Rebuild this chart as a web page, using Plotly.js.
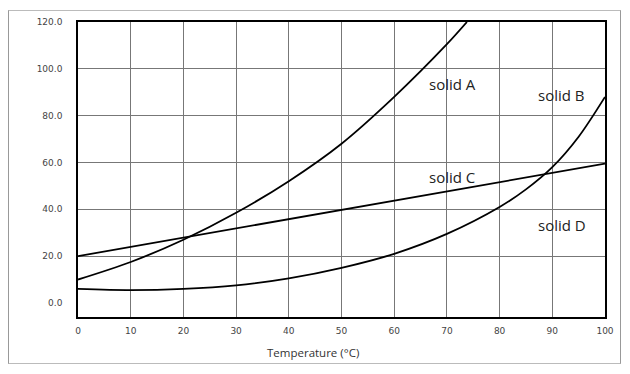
<!DOCTYPE html>
<html><head><meta charset="utf-8">
<script src="https://cdn.plot.ly/plotly-3.0.1.min.js"></script>
<style>
html,body{margin:0;padding:0;background:#fff;}
#wrap{position:relative;width:630px;height:374px;}
#chart{position:absolute;left:0;top:0;width:630px;height:374px;}
#frame{position:absolute;left:8px;top:10px;width:611px;height:352px;border:1px solid #999;border-top-color:#bbb;border-bottom-color:#bbb;pointer-events:none;}
</style></head>
<body><div id="wrap"><div id="chart"></div><div id="frame"></div></div>
<script>
// Temperatures (°C) and solubility values
const tempA = [0, 10, 20, 30, 40, 50, 60, 70, 73.8];
const solidA = [10, 17.5, 27, 38.5, 52, 68, 88, 110.5, 120];

const tempB = [0, 10, 20, 30, 40, 50, 60, 70, 80, 85, 90, 95, 100];
const solidB = [6, 5.5, 6, 7.5, 10.5, 15, 21, 29.5, 41, 48.5, 58, 71, 88];

const tempC = [0, 100];
const solidC = [20, 59.5];

const labels = ["solid A", "solid B", "solid C", "solid D"];
const labelX = [71, 91.8, 71, 91.8];
const labelY = [93.5, 89, 53.8, 33.3];

const xTicks = [0,10,20,30,40,50,60,70,80,90,100];
const yTicks = [0,20,40,60,80,100,120];
const yTickText = ["0.0","20.0","40.0","60.0","80.0","100.0","120.0"];
const yGrid = [20,40,60,80,100];

const lineStyle = {color:'#000', width:1.8, shape:'spline', smoothing:0.9};
const traces = [
  {x:tempA, y:solidA, mode:'lines', line:lineStyle, hoverinfo:'skip'},
  {x:tempB, y:solidB, mode:'lines', line:lineStyle, hoverinfo:'skip'},
  {x:tempC, y:solidC, mode:'lines', line:{color:'#000', width:1.8}, hoverinfo:'skip'},
  {x:[0], y:[null], yaxis:'y2', mode:'lines', hoverinfo:'skip'}
];

const annotations = labels.map((t,i)=>({
  x:labelX[i], y:labelY[i], xref:'x', yref:'y', text:t, showarrow:false,
  font:{family:'Open Sans, Noto Sans, sans-serif', size:15, color:'#222'}
}));
annotations.push({
  x:0.445, y:-0.119, xref:'paper', yref:'paper', text:'Temperature (°C)', showarrow:false,
  yanchor:'middle',
  font:{family:'Open Sans, Noto Sans, sans-serif', size:11.5, color:'#333'}
});

const layout = {
  width:630, height:374,
  margin:{l:78, r:25, t:22, b:57},
  paper_bgcolor:'#fff', plot_bgcolor:'#fff',
  showlegend:false,
  xaxis:{range:[0,100], tickvals:xTicks, ticks:'', showgrid:true, gridcolor:'#777', gridwidth:1,
    zeroline:false, showline:true, mirror:true, linecolor:'#000', linewidth:1.8,
    ticklabelstandoff:4,
    tickfont:{family:'DejaVu Sans, sans-serif', size:9, color:'#444'}},
  yaxis:{range:[-6,120], tickvals:yTicks, ticktext:yTickText, ticks:'', showgrid:false,
    zeroline:false, showline:true, mirror:true, linecolor:'#000', linewidth:1.8,
    ticklabelstandoff:12,
    tickfont:{family:'DejaVu Sans, sans-serif', size:9, color:'#444'}},
  yaxis2:{range:[-6,120], overlaying:'y', tickvals:yGrid, showticklabels:false, ticks:'',
    showgrid:true, gridcolor:'#777', gridwidth:1, zeroline:false, showline:false},
  annotations:annotations
};
Plotly.newPlot('chart', traces, layout, {displayModeBar:false, staticPlot:true});
</script></body></html>
